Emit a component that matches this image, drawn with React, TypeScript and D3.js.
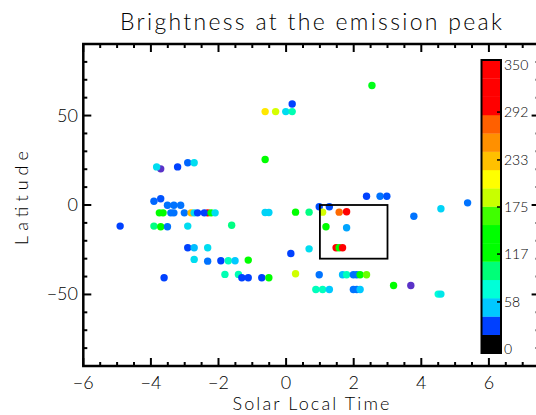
import React from "react";
import * as d3 from "d3";

// ---- data ----
const slt = [
  -3.71, -3.83, -3.21, -2.91, -2.72,
  -3.91, -3.71, -3.51, -3.32, -3.12,
  -3.75, -3.64, -3.41, -3.32, -3.01, -2.81, -2.72, -2.62, -2.32, -2.42, -2.22, -2.10,
  -4.91, -3.91, -3.71, -3.51, -2.91, -1.61,
  -2.91, -2.72, -2.32,
  -2.72, -2.32, -1.93, -1.71, -1.51, -1.12,
  -3.61, -1.81, -1.41, -1.31, -1.12, -0.72, -0.51,
  -0.62, -0.31, -0.01, 0.18, 0.18,
  -0.62, 2.54,
  -0.62, -0.51,
  2.38, 2.78, 2.98,
  0.98, 1.28,
  0.28, 0.68, 1.08, 1.57, 1.79,
  1.18, 1.79,
  5.37, 3.78, 4.58,
  0.14, 0.68,
  1.48, 1.57, 1.67,
  0.28, 0.98, 1.67, 1.79, 1.99, 2.09, 2.19, 2.38,
  0.88, 1.08, 1.28, 1.99, 2.09, 2.19,
  3.18, 3.69, 4.5, 4.58,
];
const lat = [
  20.2, 21.3, 21.3, 23.6, 23.6,
  2.1, 3.5, -0.1, -0.1, -0.1,
  -4.4, -4.4, -4.4, -4.4, -4.4, -4.4, -4.4, -4.4, -4.4, -4.4, -4.4, -4.4,
  -11.8, -11.8, -12.2, -12.2, -11.8, -11.3,
  -23.9, -23.9, -23.9,
  -30.4, -31.4, -31.2, -31.2, -31.2, -30.8,
  -40.7, -38.8, -38.8, -40.7, -40.7, -40.7, -40.7,
  52.2, 52.2, 52.2, 52.2, 56.5,
  25.4, 66.8,
  -4.2, -4.2,
  4.9, 4.9, 4.9,
  -1.0, -1.0,
  -4.0, -4.0, -4.0, -4.0, -3.8,
  -12.2, -12.7,
  1.2, -6.3, -2.1,
  -27.1, -24.5,
  -23.9, -23.9, -23.9,
  -38.4, -39.0, -39.0, -39.0, -39.0, -39.0, -39.0, -39.0,
  -47.2, -47.2, -47.2, -47.2, -47.2, -47.2,
  -45.0, -45.0, -49.8, -49.8,
];
const brightness = [
  12, 52, 22, 28, 52,
  28, 25, 30, 30, 30,
  120, 118, 30, 30, 30, 220, 52, 22, 300, 22, 120, 52,
  22, 85, 120, 30, 52, 85,
  22, 42, 52,
  52, 30, 22, 72, 44, 120,
  22, 74, 74, 22, 22, 22, 120,
  205, 180, 52, 74, 22,
  120, 105,
  48, 48,
  22, 30, 25,
  24, 24,
  120, 85, 180, 258, 300,
  120, 38,
  30, 30, 48,
  22, 52,
  300, 120, 300,
  178, 30, 42, 72, 30, 30, 125, 160,
  72, 72, 44, 30, 30, 44,
  120, 12, 66, 56,
];

// colour table (value stops -> colours)
const colorStops = [0, 12, 21.875, 43.75, 65.625, 87.5, 109.375, 131.25, 153.125, 175, 196.875, 218.75, 240.625, 262.5, 284.375, 350];
const colorValues = ["#000000", "#5a32c8", "#0040ff", "#00c8ff", "#00ffd8", "#00ff78", "#00ff00", "#00ff00", "#40ff00", "#c8ff00", "#ffff00", "#ffc000", "#ff9000", "#ff6000", "#ff0000", "#ff0000"];
const cbarTicks = [0, 58, 117, 175, 233, 292, 350];
const xTicks = [-6, -4, -2, 0, 2, 4, 6];
const yTicks = [-50, 0, 50];
const box = { x0: 1, x1: 3, y0: 0, y1: -30 };

const W = 536, H = 415;
const font = "Lato, 'DejaVu Sans', sans-serif";
const fw = 300;

export default function App() {
  const x = d3.scaleLinear().domain([-6, 7.5]).range([83.3, 539.6]);
  const y = d3.scaleLinear().domain([-90, 90]).range([366, 44]);
  const color = d3.scaleLinear<string>().domain(colorStops).range(colorValues).clamp(true);
  const cb = d3.scaleLinear().domain([0, 350]).range([353, 60]);
  const cbLabel = d3.scaleLinear().domain([0, 350]).range([349, 65]);
  const nBands = 16;
  const bandW = 350 / nBands;

  const xMinor = d3.range(-6, 7.51, 0.5);
  const yMinor = d3.range(-90, 90.1, 10);
  const left = x(-6), right = x(7.5), top = y(90), bottom = y(-90);

  return (
    <svg width={W} height={H} style={{ position: "absolute", left: 0, top: 0, display: "block", background: "#fff" }}>
      <rect x={0} y={0} width={W} height={H} fill="#fff" />
      {/* points */}
      {slt.map((v, i) => (
        <circle key={i} cx={x(v)} cy={y(lat[i])} r={3.7} fill={color(brightness[i])} />
      ))}
      {/* box */}
      <rect x={x(box.x0)} y={y(box.y0)} width={x(box.x1) - x(box.x0)} height={y(box.y1) - y(box.y0)} fill="none" stroke="#000" strokeWidth={1.8} />
      {/* frame */}
      <rect x={left} y={top} width={right - left} height={bottom - top} fill="none" stroke="#000" strokeWidth={2.5} />
      {/* ticks */}
      {xMinor.map((t) => {
        const major = xTicks.includes(t);
        const len = major ? 8 : 4;
        return (
          <g key={"xt" + t}>
            <line x1={x(t)} x2={x(t)} y1={bottom} y2={bottom - len} stroke="#000" strokeWidth={2} />
            <line x1={x(t)} x2={x(t)} y1={top} y2={top + len} stroke="#000" strokeWidth={2} />
          </g>
        );
      })}
      {yMinor.map((t) => {
        const major = t % 50 === 0;
        const len = major ? 8 : 4;
        return (
          <g key={"yt" + t}>
            <line x1={left} x2={left + len} y1={y(t)} y2={y(t)} stroke="#000" strokeWidth={2} />
            <line x1={right} x2={right - len} y1={y(t)} y2={y(t)} stroke="#000" strokeWidth={2} />
          </g>
        );
      })}
      {xTicks.map((t) => (
        <text key={"xl" + t} x={x(t)} y={389} fontSize={18} fontFamily={font} fontWeight={fw} textAnchor="middle" fill="#000">
          {t < 0 ? "\u2212" + Math.abs(t) : t}
        </text>
      ))}
      {yTicks.map((t) => (
        <text key={"yl" + t} x={78} y={y(t) + 6} fontSize={18} fontFamily={font} fontWeight={fw} textAnchor="end" fill="#000">
          {t < 0 ? "\u2212" + Math.abs(t) : t}
        </text>
      ))}
      {/* titles */}
      <text x={311} y={30} fontSize={23} fontFamily={font} fontWeight={fw} textAnchor="middle" textLength={382} lengthAdjust="spacing" fill="#000">
        Brightness at the emission peak
      </text>
      <text x={311} y={410} fontSize={18} fontFamily={font} fontWeight={fw} textAnchor="middle" textLength={157} lengthAdjust="spacing" fill="#000">
        Solar Local Time
      </text>
      <text transform="translate(28,198) rotate(-90)" fontSize={18} fontFamily={font} fontWeight={fw} textAnchor="middle" textLength={94} lengthAdjust="spacing" fill="#000">
        Latitude
      </text>
      {/* colorbar */}
      {d3.range(nBands).map((i) => (
        <rect key={"cb" + i} x={481.5} y={cb((i + 1) * bandW)} width={19.5} height={cb(i * bandW) - cb((i + 1) * bandW) + 0.3} fill={color(i * bandW)} />
      ))}
      <rect x={481.5} y={60} width={19.5} height={293} fill="none" stroke="#000" strokeWidth={2} />
      {cbarTicks.slice(1, -1).map((t) => (
        <line key={"cbt" + t} x1={501} x2={497} y1={cbLabel(t)} y2={cbLabel(t)} stroke="#000" strokeWidth={1.5} />
      ))}
      {cbarTicks.map((t) => (
        <text key={"cbl" + t} x={504} y={cbLabel(t) + 5} fontSize={14} fontFamily={font} fontWeight={fw} fill="#000">
          {t}
        </text>
      ))}
    </svg>
  );
}
